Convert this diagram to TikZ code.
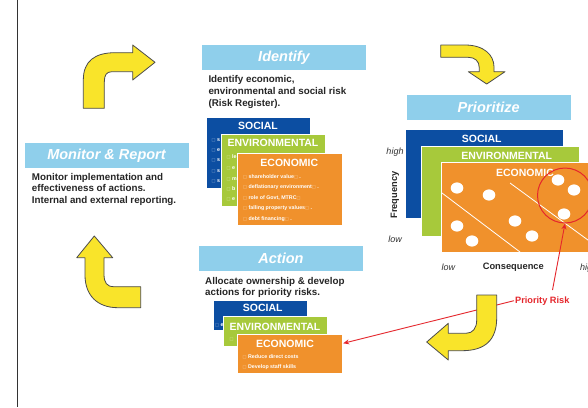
\documentclass[tikz,border=0pt]{standalone}
\usepackage{fontspec}
\setmainfont{Liberation Sans}
\newfontfamily\symfont{DejaVu Sans}
\usetikzlibrary{calc,arrows.meta}
\definecolor{hdrblue}{HTML}{8FCFEB}
\definecolor{cardblue}{HTML}{0C4EA2}
\definecolor{cardgreen}{HTML}{A7C93B}
\definecolor{cardorange}{HTML}{F0912C}
\definecolor{arrowyellow}{HTML}{F9E42A}
\definecolor{riskred}{HTML}{E5262C}
% small hollow bullets used in the card lists
\newcommand\bx{{\symfont\fontsize{4.2}{4.2}\selectfont\color{white!55!cardorange}\char"25A1}}
\newcommand\bxb{{\symfont\fontsize{4.2}{4.2}\selectfont\color{white!55!cardblue}\char"25A1}}
\newcommand\bxg{{\symfont\fontsize{4.2}{4.2}\selectfont\color{white!55!cardgreen}\char"25A1}}
\begin{document}
\begin{tikzpicture}[x=1pt,y=-1pt,
  header/.style={fill=hdrblue, minimum width=164pt, minimum height=25pt, inner sep=0pt,
    text=white, font=\fontsize{14.5}{14.5}\selectfont\bfseries\itshape},
  body/.style={align=left, anchor=north west, inner sep=0pt, text=black!85,
    font=\fontsize{9.8}{11.6}\selectfont\bfseries},
  card/.style={draw=white, line width=0.5pt, anchor=north west, inner sep=0pt},
  cardtitle/.style={text=white, inner sep=0pt, font=\fontsize{10.5}{10.5}\selectfont\bfseries},
  item/.style={anchor=west, text=white, inner sep=0pt, font=\fontsize{5.3}{5.3}\selectfont\bfseries},
  bigarrow/.style={fill=arrowyellow, draw=black!70, line width=0.8pt, line join=round},
  axislabel/.style={inner sep=0pt, text=black!80, font=\fontsize{9}{9}\selectfont\itshape},
  axistitle/.style={inner sep=0pt, text=black!85, font=\fontsize{9.3}{9.3}\selectfont\bfseries},
  riskline/.style={draw=riskred, line width=0.9pt, -{Stealth[length=6pt,width=5pt]}},
  riskdot/.style={fill=white}]
\useasboundingbox (0,0) rectangle (588,407);
\fill[white] (0,0) rectangle (588,407);

% page margin rule
\draw[black!80, line width=1.4pt] (17.5,0) -- (17.5,407);

% ---------------- Identify ----------------
\node[header] (hid) at (284,57.5) {Identify};
\node[body] (bid) at (208.3,75.6) {Identify economic,\\environmental and social risk\\(Risk Register).};

\node[card, fill=cardblue, minimum width=104pt, minimum height=71.6pt] (isoc) at (206,116.7) {};
\node[cardtitle] (isoct) at (258,125.7) {SOCIAL};
\foreach \y/\t in {140/s, 150.5/e, 160.8/s, 171/s, 181.5/s}
  \node[item] at (211.5,\y) {\bxb\ \t};

\node[card, fill=cardgreen, minimum width=104.3pt, minimum height=72pt] (ienv) at (220.7,134) {};
\node[cardtitle] (ienvt) at (273,143.3) {ENVIRONMENTAL};
\foreach \y/\t in {156.7/le, 168/e, 179.3/m, 189.3/b, 199.3/e}
  \node[item] at (226.5,\y) {\bxg\ \t};

\node[card, fill=cardorange, minimum width=105pt, minimum height=72.3pt] (iecon) at (236.7,152.7) {};
\node[cardtitle] (iecont) at (289.3,162.7) {ECONOMIC};
\node[item] at (243,176.7) {\bx\ shareholder value\bx\ .};
\node[item] at (243,187.3) {\bx\ deflationary environment\bx\ .};
\node[item] at (243,198)   {\bx\ role of Govt, MTRC\bx};
\node[item] at (243,208.3) {\bx\ falling property values\bx\ .};
\node[item] at (243,218.7) {\bx\ debt financing\bx\ .};

% ---------------- Prioritize ----------------
\node[header] (hpr) at (488.7,107.2) {Prioritize};

\node[card, fill=cardblue, minimum width=157.7pt, minimum height=89.3pt] (psoc) at (405,129) {};
\node[cardtitle] (psoct) at (481.7,139) {SOCIAL};
\node[card, fill=cardgreen, minimum width=158.3pt, minimum height=90pt] (penv) at (421,145.7) {};
\node[cardtitle] (penvt) at (506.7,156) {ENVIRONMENTAL};
\node[card, fill=cardorange, minimum width=160pt, minimum height=90pt] (pecon) at (440.7,162.3) {};
\node[cardtitle] (pecont) at (525,173) {ECONOMIC};

% risk bands and individual risks
\draw[white, line width=0.8pt] (442,193) -- (520,252);
\draw[white, line width=0.8pt] (510,183) -- (592,243);
\foreach \x/\y in {457/188, 489/195, 457/226, 472/241, 515/221, 532/236, 558/180, 574/190, 564/214}
  \fill[riskdot] (\x,\y) ellipse [x radius=6.3, y radius=5.6];

\node[circle, draw=riskred, line width=1pt, minimum size=55pt, inner sep=0pt] (prisk) at (565,195.5) {};

% axes
\node[axislabel] (fhigh) at (395,152.3) {high};
\node[axislabel] (flow) at (395,239.3) {low};
\node[axistitle, rotate=90] (freq) at (395,195) {Frequency};
\node[axislabel] (clow) at (448.3,267.7) {low};
\node[axistitle] (cons) at (513.3,267.7) {Consequence};
\node[axislabel, anchor=west] (chigh) at (580,267.7) {high};

% ---------------- Action ----------------
\node[header] (hact) at (281,258.5) {Action};
\node[body] (bact) at (205,277) {Allocate ownership \& develop\\actions for priority risks.};

\node[card, fill=cardblue, minimum width=94pt, minimum height=30pt] (asoc) at (212.7,300) {};
\node[cardtitle] (asoct) at (262.7,307.7) {SOCIAL};
\node[item] at (215,325) {\bxb\ e};
\node[card, fill=cardgreen, minimum width=103.4pt, minimum height=30pt] (aenv) at (223.3,316) {};
\node[cardtitle] (aenvt) at (275,326.7) {ENVIRONMENTAL};
\node[item] at (229.5,339.3) {\bxg};
\node[card, fill=cardorange, minimum width=104.4pt, minimum height=39pt] (aecon) at (237.3,334.3) {};
\node[cardtitle] (aecont) at (285,344) {ECONOMIC};
\node[item] at (242.5,357.3) {\bx\ Reduce direct costs};
\node[item] at (242.5,367.3) {\bx\ Develop staff skills};

% ---------------- Monitor & Report ----------------
\node[header] (hmon) at (106.5,155.5) {Monitor \& Report};
\node[body] (bmon) at (31.7,173) {Monitor implementation and\\effectiveness of actions.\\Internal and external reporting.};

% ---------------- priority risk callout ----------------
\node[inner sep=1pt, text=riskred, font=\fontsize{9.2}{9.2}\selectfont\bfseries] (prio) at (542.3,300.7) {Priority Risk};
\coordinate (prtop) at (552.5,290);
\coordinate (actin) at ($(aecon.north east)+(1,9)$);
\draw[riskline] (prtop) -- (prisk.south);
\draw[riskline] (prio.west) -- (actin);

% ---------------- cycle arrows ----------------
% Monitor -> Identify
\path[bigarrow] (83.3,108.3) -- (83.3,80) .. controls (83.3,61) and (95,52.7) .. (115,52.7)
  -- (132.7,52.7) -- (132.7,45) -- (155,62.3) -- (132.7,80) -- (132.7,71.7) -- (112,71.7)
  .. controls (106.5,71.7) and (104.3,75) .. (104.3,82) -- (104.3,108.3) -- cycle;
% Identify -> Prioritize
\path[bigarrow] (440.7,45) -- (465,45) .. controls (484,45) and (494,55) .. (494,67)
  -- (494,71.7) -- (505,71.7) -- (486.7,84) -- (468.3,71.7) -- (479.3,71.7) -- (479.3,68)
  .. controls (479.3,61) and (475,57.3) .. (468,57.3) -- (440.7,57.3) -- cycle;
% Prioritize -> Action
\path[bigarrow] (476.7,295) -- (496.7,295) -- (496.7,318) .. controls (496.7,340) and (485,350.7) .. (462,350.7)
  -- (448.3,350.7) -- (448.3,360) -- (426.7,342) -- (448.3,323.3) -- (448.3,333.3) -- (466,333.3)
  .. controls (473,333.3) and (476.7,328) .. (476.7,320) -- cycle;
% Action -> Monitor
\path[bigarrow] (94.3,236) -- (112.7,257.7) -- (104,257.7) -- (104,274) .. controls (104,283) and (107,286.7) .. (114,286.7)
  -- (140.7,286.7) -- (140.7,307.7) -- (118,307.7) .. controls (97,307.7) and (85,295) .. (85,275)
  -- (85,257.7) -- (76.7,257.7) -- cycle;
\end{tikzpicture}
\end{document}
